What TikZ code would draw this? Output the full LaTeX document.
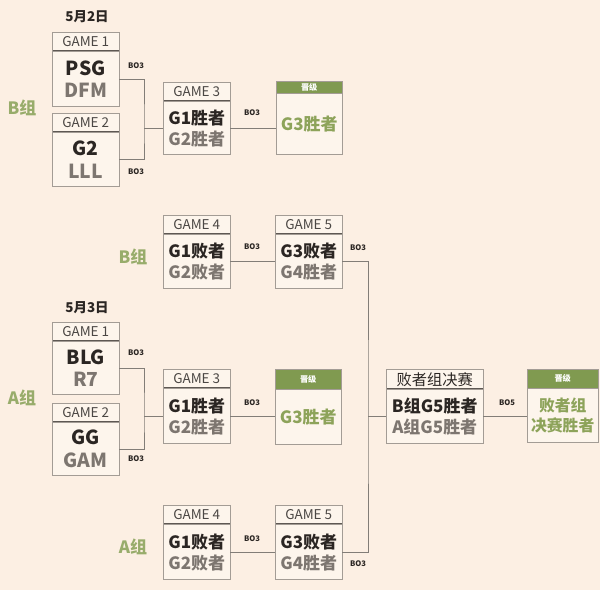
\documentclass[tikz,border=0pt]{standalone}
\usepackage{fontspec}
\setmainfont{Noto Sans CJK SC}
\usetikzlibrary{positioning}

\definecolor{bg}{HTML}{FCEFE3}
\definecolor{paper}{HTML}{FDF5EC}
\definecolor{frame}{HTML}{A39C95}
\definecolor{sep}{HTML}{5E5853}
\definecolor{ink}{HTML}{2B2623}
\definecolor{ink2}{HTML}{7D7670}
\definecolor{leaf}{HTML}{809A50}
\definecolor{leaftext}{HTML}{8DA35A}

\begin{document}
\begin{tikzpicture}[x=0.03cm, y=-0.03cm,
    hdr/.style={draw=frame, fill=paper, anchor=north west, inner sep=0pt,
      minimum width=2.01cm, minimum height=0.57cm, text=ink!85,
      font=\fontsize{11.5}{12}\selectfont,
      path picture={\draw[sep, line width=1.8pt] (path picture bounding box.south west) -- (path picture bounding box.south east);}},
    body/.style={draw=frame, fill=paper, anchor=north, inner sep=0pt,
      minimum width=2.01cm, minimum height=1.62cm, align=center,
      font=\fontsize{14.5}{18}\selectfont\bfseries},
    team/.style={body, font=\fontsize{16.5}{19.5}\selectfont\bfseries},
    up/.style={draw=frame, fill=leaf, anchor=north west, inner sep=0pt,
      minimum width=1.98cm, minimum height=0.6cm, text=white,
      font=\fontsize{7}{8}\selectfont\bfseries},
    bo/.style={text=ink, font=\fontsize{6.5}{7}\selectfont\bfseries},
    day/.style={text=ink, font=\fontsize{11.5}{12}\selectfont\bfseries},
    grp/.style={text=leaftext!90, font=\fontsize{14.5}{16}\selectfont\bfseries},
    link/.style={draw=frame!80!black, line width=0.6pt}]

  \fill[bg] (0,0) rectangle (600,590);
  \useasboundingbox (0,0) rectangle (600,590);

  % group B, 5/2
  \node[day] (d1) at (87,17) {5月2日};
  \node[grp] (lb1) at (22,108) {B组};
  \node[hdr] (g1h) at (52,32) {GAME 1};
  \node[team, minimum height=1.65cm] (g1) at (g1h.south) {\color{ink}PSG\\\color{ink2}DFM};
  \node[hdr] (g2h) at (52,113) {GAME 2};
  \node[team] (g2) at (g2h.south) {\color{ink}G2\\\color{ink2}LLL};
  \node[hdr] (g3h) at (163,82) {GAME 3};
  \node[body, minimum height=1.59cm] (g3) at (g3h.south) {\color{ink}G1胜者\\\color{ink2}G2胜者};
  \node[up, minimum height=0.36cm] (w1h) at (276,81) {晋级};
  \node[body, minimum width=1.98cm, minimum height=1.83cm, text=leaftext] (w1) at (w1h.south) {G3胜者};

  % losers B
  \node[grp] (lb2) at (133,257) {B组};
  \node[hdr] (b4h) at (163,215) {GAME 4};
  \node[body] (b4) at (b4h.south) {\color{ink}G1败者\\\color{ink2}G2败者};
  \node[hdr] (b5h) at (275,215) {GAME 5};
  \node[body] (b5) at (b5h.south) {\color{ink}G3败者\\\color{ink2}G4胜者};

  % group A, 5/3
  \node[day] (d2) at (87,308) {5月3日};
  \node[grp] (lb3) at (22,398) {A组};
  \node[hdr] (a1h) at (52,322) {GAME 1};
  \node[team, minimum height=1.59cm] (a1) at (a1h.south) {\color{ink}BLG\\\color{ink2}R7};
  \node[hdr] (a2h) at (52,403) {GAME 2};
  \node[team, minimum height=1.59cm] (a2) at (a2h.south) {\color{ink}GG\\\color{ink2}GAM};
  \node[hdr] (a3h) at (163,369) {GAME 3};
  \node[body, minimum height=1.65cm] (a3) at (a3h.south) {\color{ink}G1胜者\\\color{ink2}G2胜者};
  \node[up] (w2h) at (275,369) {晋级};
  \node[body, minimum width=1.98cm, minimum height=1.65cm, text=leaftext] (w2) at (w2h.south) {G3胜者};

  % losers A
  \node[grp] (lb4) at (133,547) {A组};
  \node[hdr] (c4h) at (163,505) {GAME 4};
  \node[body, minimum height=1.65cm] (c4) at (c4h.south) {\color{ink}G1败者\\\color{ink2}G2败者};
  \node[hdr] (c5h) at (275,505) {GAME 5};
  \node[body, minimum height=1.65cm] (c5) at (c5h.south) {\color{ink}G3败者\\\color{ink2}G4胜者};

  % losers final
  \node[hdr, minimum width=2.91cm, minimum height=0.6cm, text=ink, font=\fontsize{13}{14}\selectfont] (fh) at (386,369) {败者组决赛};
  \node[body, minimum width=2.91cm] (fin) at (fh.south) {\color{ink}B组G5胜者\\\color{ink2}A组G5胜者};
  \node[up, minimum width=2.13cm, minimum height=0.57cm] (wh) at (527,369) {晋级};
  \node[body, minimum width=2.13cm, text=leaftext, font=\fontsize{13.5}{17}\selectfont\bfseries] (win) at (wh.south) {败者组\\决赛胜者};

  % connectors
  \draw[link] (g3.west) -- ++(-19,0) coordinate (j1);
  \draw[link] (g1.east) -| (j1) |- (g2.east);
  \draw[link] (g3.east) -- (g3.east -| w1.west);
  \draw[link] (a3.west) -- ++(-19,0) coordinate (j2);
  \draw[link] (a1.east) -| (j2) |- (a2.east);
  \draw[link] (a3.east) -- (a3.east -| w2.west);
  \draw[link] (b4.east) -- (b4.east -| b5.west);
  \draw[link] (c4.east) -- (c4.east -| c5.west);
  \draw[link] (fin.west) -- ++(-18,0) coordinate (j3);
  \draw[link] (b5.east) -| (j3) |- (c5.east);
  \draw[link] (fin.east) -- (fin.east -| win.west);

  % series lengths
  \node[bo] (s1) at (136,66) {BO3};
  \node[bo] (s2) at (136,172) {BO3};
  \node[bo] (s3) at (252,113) {BO3};
  \node[bo] (s4) at (252,247) {BO3};
  \node[bo] (s5) at (358,248) {BO3};
  \node[bo] (s6) at (136,353) {BO3};
  \node[bo] (s7) at (136,459) {BO3};
  \node[bo] (s8) at (252,403) {BO3};
  \node[bo] (s9) at (252,539) {BO3};
  \node[bo] (s10) at (358,564) {BO3};
  \node[bo] (s11) at (507,403) {BO5};
\end{tikzpicture}
\end{document}
